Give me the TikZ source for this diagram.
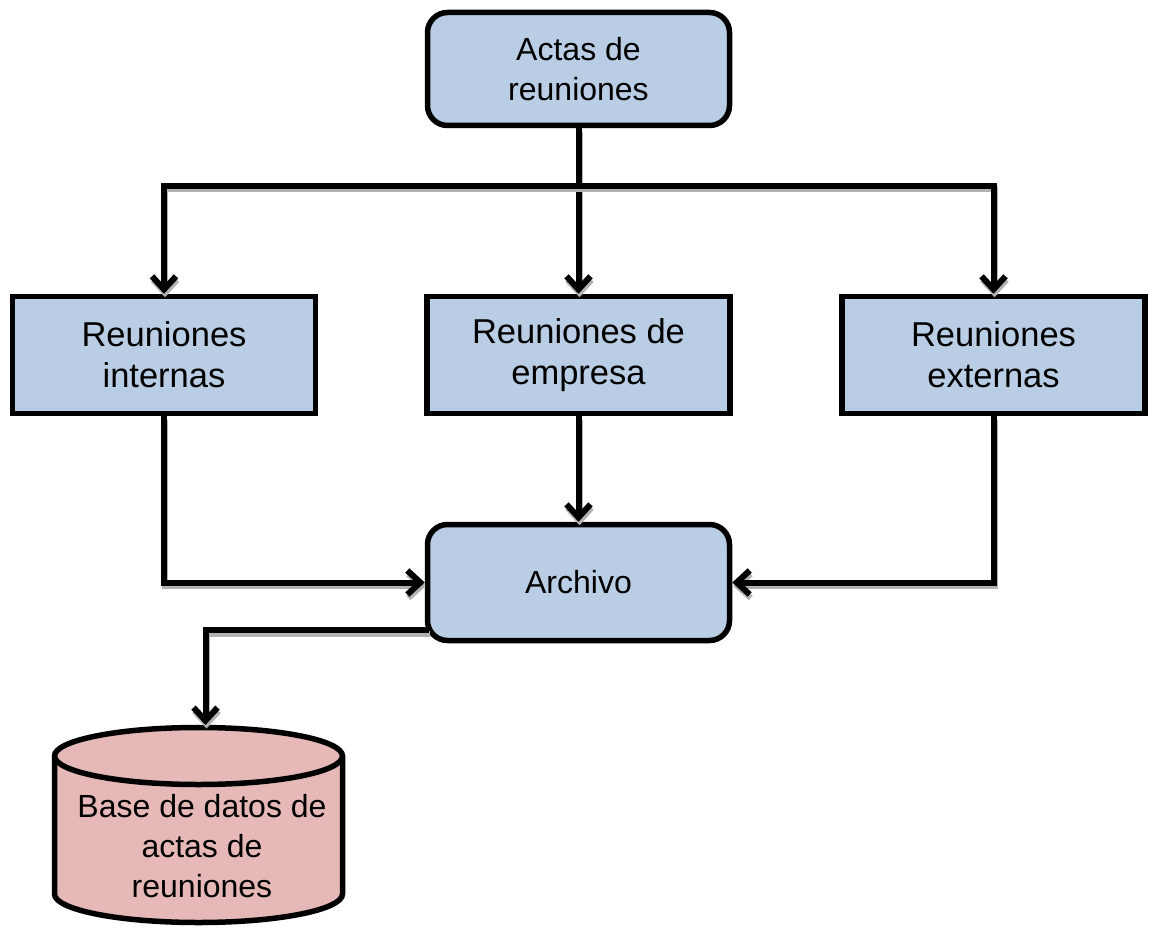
\documentclass[tikz,border=0pt]{standalone}
\usepackage{fontspec}
\setmainfont{Liberation Sans}
\usetikzlibrary{arrows.meta,calc}
\definecolor{boxblue}{HTML}{B9CDE5}
\definecolor{dbpink}{HTML}{E6B9B8}
\begin{document}
\begin{tikzpicture}[x=1pt,y=-1pt,
  every node/.style={font=\fontsize{32}{40}\selectfont, align=center, text=black},
  bigtext/.style={font=\fontsize{34.5}{41}\selectfont},
  procbox/.style={draw=black, line width=5.5pt, fill=boxblue, minimum width=303pt,
    minimum height=117pt, inner sep=0pt},
  roundbox/.style={procbox, minimum width=302pt, minimum height=116pt, rounded corners=20pt},
  conn/.style={line width=6pt, -{Straight Barb[length=13pt,width=24pt]},
    preaction={draw=gray!60, line width=6pt, -{Straight Barb[length=13pt,width=24pt]},
      transform canvas={shift={(1pt,-3.5pt)}}}},
  ]
\useasboundingbox (0,0) rectangle (1151,928);

% database cylinder
\filldraw[fill=dbpink, line width=5.5pt]
  (54.5,756) -- (54.5,894)
  arc[start angle=180, end angle=0, x radius=144, y radius=28.5]
  -- (342.5,756)
  arc[start angle=0, end angle=-180, x radius=144, y radius=28.5] -- cycle;
\draw[line width=5.5pt] (54.5,756) arc[start angle=180, end angle=0, x radius=144, y radius=28.5];

% connector junctions
\coordinate (split) at (578.5,186);
\coordinate (aout) at (429,630);
\coordinate (dbtop) at (205.5,725);

\path (578.5,69) node[roundbox, minimum height=113pt] (actas) {Actas de\\reuniones}
      (164,355) node[procbox, bigtext] (rint) {Reuniones\\internas}
      (578.5,355) node[procbox, bigtext] (remp) {Reuniones de\\empresa}
      (993.5,355) node[procbox, bigtext] (rext) {Reuniones\\externas}
      (578.5,582.5) node[roundbox] (arch) {Archivo}
      (202,846) node (db) {Base de datos de\\actas de\\reuniones};

\draw[conn] (actas) -- (remp);
\draw[conn] (split) -| (rint.north);
\draw[conn] (split) -| (rext.north);
\draw[conn] (remp) -- (arch);
\draw[conn] (rint.south) |- (arch.west);
\draw[conn] (rext.south) |- (arch.east);
\draw[conn] (aout) -| (dbtop);
\end{tikzpicture}
\end{document}
